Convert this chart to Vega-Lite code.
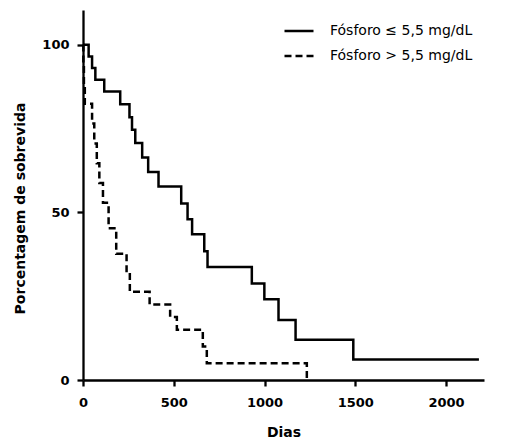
{
  "$schema": "https://vega.github.io/schema/vega-lite/v6.json",
  "width": 401,
  "height": 370,
  "autosize": {"type": "none"},
  "padding": {"left": 83, "top": 10, "right": 33, "bottom": 64},
  "background": "white",
  "config": {
    "view": {"stroke": null},
    "font": "DejaVu Sans"
  },
  "data": {
    "values": [
      {"grupo": "Fósforo ≤ 5,5 mg/dL", "dias": 0, "sobrevida": 100},
      {"grupo": "Fósforo ≤ 5,5 mg/dL", "dias": 31, "sobrevida": 96.5},
      {"grupo": "Fósforo ≤ 5,5 mg/dL", "dias": 50, "sobrevida": 93.1},
      {"grupo": "Fósforo ≤ 5,5 mg/dL", "dias": 68, "sobrevida": 89.6},
      {"grupo": "Fósforo ≤ 5,5 mg/dL", "dias": 117, "sobrevida": 86.1},
      {"grupo": "Fósforo ≤ 5,5 mg/dL", "dias": 205, "sobrevida": 82.3},
      {"grupo": "Fósforo ≤ 5,5 mg/dL", "dias": 256, "sobrevida": 78.4},
      {"grupo": "Fósforo ≤ 5,5 mg/dL", "dias": 270, "sobrevida": 74.7},
      {"grupo": "Fósforo ≤ 5,5 mg/dL", "dias": 288, "sobrevida": 70.7},
      {"grupo": "Fósforo ≤ 5,5 mg/dL", "dias": 326, "sobrevida": 66.4},
      {"grupo": "Fósforo ≤ 5,5 mg/dL", "dias": 359, "sobrevida": 62.1},
      {"grupo": "Fósforo ≤ 5,5 mg/dL", "dias": 416, "sobrevida": 57.7},
      {"grupo": "Fósforo ≤ 5,5 mg/dL", "dias": 541, "sobrevida": 52.7},
      {"grupo": "Fósforo ≤ 5,5 mg/dL", "dias": 576, "sobrevida": 48.0},
      {"grupo": "Fósforo ≤ 5,5 mg/dL", "dias": 601, "sobrevida": 43.5},
      {"grupo": "Fósforo ≤ 5,5 mg/dL", "dias": 668, "sobrevida": 38.4},
      {"grupo": "Fósforo ≤ 5,5 mg/dL", "dias": 686, "sobrevida": 33.7},
      {"grupo": "Fósforo ≤ 5,5 mg/dL", "dias": 930, "sobrevida": 28.8},
      {"grupo": "Fósforo ≤ 5,5 mg/dL", "dias": 999, "sobrevida": 24.1},
      {"grupo": "Fósforo ≤ 5,5 mg/dL", "dias": 1077, "sobrevida": 17.9},
      {"grupo": "Fósforo ≤ 5,5 mg/dL", "dias": 1171, "sobrevida": 12.0},
      {"grupo": "Fósforo ≤ 5,5 mg/dL", "dias": 1489, "sobrevida": 6.1},
      {"grupo": "Fósforo ≤ 5,5 mg/dL", "dias": 2181, "sobrevida": 6.1},
      {"grupo": "Fósforo > 5,5 mg/dL", "dias": 0, "sobrevida": 100},
      {"grupo": "Fósforo > 5,5 mg/dL", "dias": 2, "sobrevida": 94.1},
      {"grupo": "Fósforo > 5,5 mg/dL", "dias": 5, "sobrevida": 88.2},
      {"grupo": "Fósforo > 5,5 mg/dL", "dias": 10, "sobrevida": 82.4},
      {"grupo": "Fósforo > 5,5 mg/dL", "dias": 50, "sobrevida": 76.5},
      {"grupo": "Fósforo > 5,5 mg/dL", "dias": 62, "sobrevida": 70.6},
      {"grupo": "Fósforo > 5,5 mg/dL", "dias": 76, "sobrevida": 64.7},
      {"grupo": "Fósforo > 5,5 mg/dL", "dias": 90, "sobrevida": 58.8},
      {"grupo": "Fósforo > 5,5 mg/dL", "dias": 110, "sobrevida": 52.9},
      {"grupo": "Fósforo > 5,5 mg/dL", "dias": 141, "sobrevida": 45.3},
      {"grupo": "Fósforo > 5,5 mg/dL", "dias": 183, "sobrevida": 37.7},
      {"grupo": "Fósforo > 5,5 mg/dL", "dias": 240, "sobrevida": 32.0},
      {"grupo": "Fósforo > 5,5 mg/dL", "dias": 258, "sobrevida": 26.3},
      {"grupo": "Fósforo > 5,5 mg/dL", "dias": 367, "sobrevida": 22.5},
      {"grupo": "Fósforo > 5,5 mg/dL", "dias": 480, "sobrevida": 18.8},
      {"grupo": "Fósforo > 5,5 mg/dL", "dias": 517, "sobrevida": 15.0},
      {"grupo": "Fósforo > 5,5 mg/dL", "dias": 660, "sobrevida": 10.0},
      {"grupo": "Fósforo > 5,5 mg/dL", "dias": 682, "sobrevida": 5.0},
      {"grupo": "Fósforo > 5,5 mg/dL", "dias": 1233, "sobrevida": 0}
    ]
  },
  "mark": {"type": "line", "interpolate": "step-after", "color": "black", "strokeWidth": 2.5, "strokeCap": "butt"},
  "encoding": {
    "x": {
      "field": "dias", "type": "quantitative", "title": "Dias",
      "scale": {"domain": [0, 2209], "nice": false, "zero": true},
      "axis": {
        "values": [0, 500, 1000, 1500, 2000], "format": "d", "grid": false,
        "domainColor": "black", "domainWidth": 2.3, "tickColor": "black", "tickWidth": 2.3, "tickSize": 6,
        "labelFont": "DejaVu Sans", "labelFontWeight": "bold", "labelFontSize": 13, "labelColor": "black", "labelPadding": 10,
        "labelFlush": false,
        "titleFont": "DejaVu Sans", "titleFontWeight": "bold", "titleFontSize": 14, "titleColor": "black",
        "titleY": 52, "titleBaseline": "middle"
      }
    },
    "y": {
      "field": "sobrevida", "type": "quantitative", "title": "Porcentagem de sobrevida",
      "scale": {"domain": [0, 110.4], "nice": false, "zero": true},
      "axis": {
        "values": [0, 50, 100], "format": "d", "grid": false,
        "domainColor": "black", "domainWidth": 2.3, "tickColor": "black", "tickWidth": 2.3, "tickSize": 6,
        "labelFont": "DejaVu Sans", "labelFontWeight": "bold", "labelFontSize": 13, "labelColor": "black", "labelPadding": 8,
        "labelFlush": false,
        "titleFont": "DejaVu Sans", "titleFontWeight": "bold", "titleFontSize": 14, "titleColor": "black",
        "titleX": -63, "titleY": 198, "titleBaseline": "middle", "titleAngle": -90
      }
    },
    "strokeDash": {
      "field": "grupo", "type": "nominal",
      "scale": {"domain": ["Fósforo ≤ 5,5 mg/dL", "Fósforo > 5,5 mg/dL"], "range": [[1, 0], [7, 4]]},
      "legend": {
        "title": null, "orient": "none", "legendX": 200, "legendY": 5,
        "symbolType": "stroke", "symbolSize": 841, "symbolStrokeWidth": 2.5, "symbolStrokeColor": "black",
        "labelFont": "DejaVu Sans", "labelFontSize": 14, "labelColor": "black", "labelOffset": 15, "labelLimit": 400,
        "rowPadding": 2, "padding": 0
      }
    }
  }
}
